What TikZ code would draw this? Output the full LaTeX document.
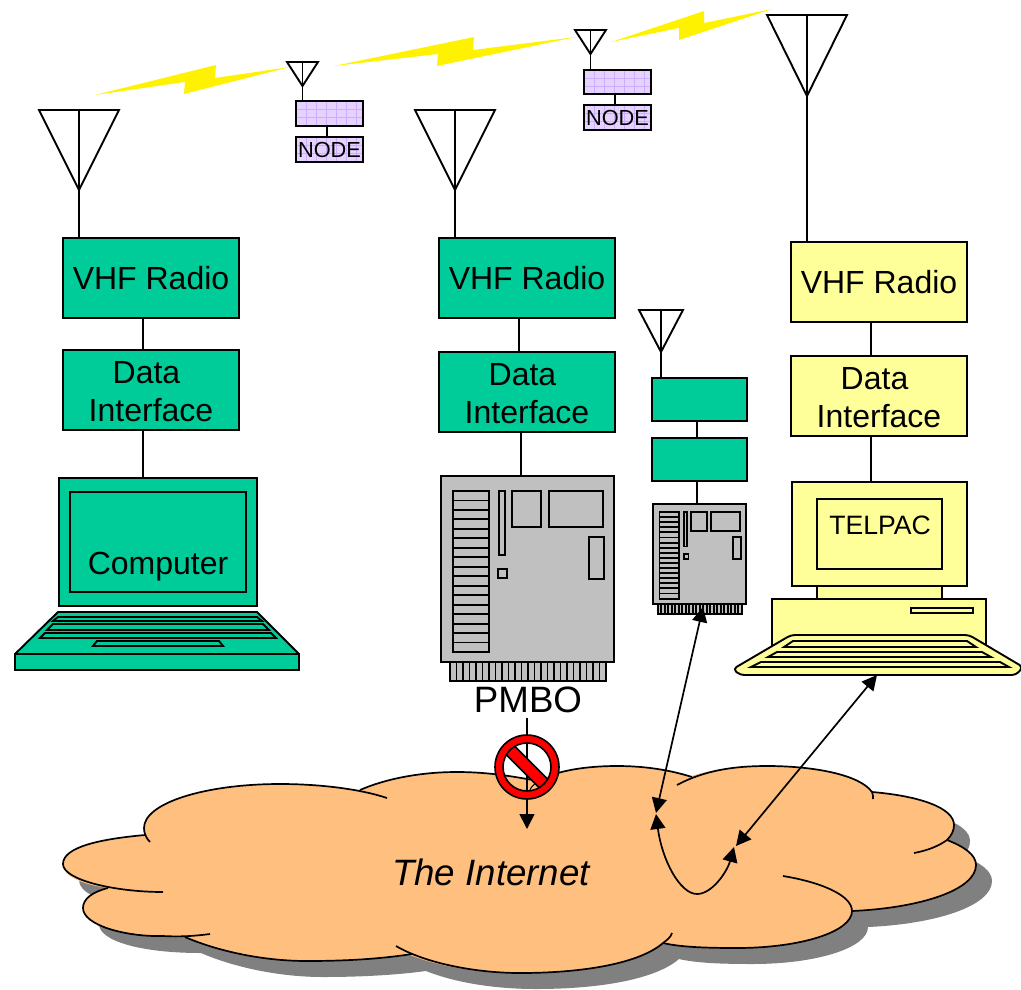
\documentclass[tikz,border=0pt]{standalone}
\usepackage{fontspec}
\setmainfont{Liberation Sans}
\usetikzlibrary{arrows.meta}
\definecolor{grn}{HTML}{00CC99}
\definecolor{ylw}{HTML}{FFFF99}
\definecolor{org}{HTML}{FFBF7F}
\definecolor{shd}{HTML}{808080}
\definecolor{brd}{HTML}{C0C0C0}
\definecolor{pur}{HTML}{E6D2FF}
\definecolor{grd}{HTML}{CDADFF}
\tikzset{
  ln/.style={draw=black,line width=1.9pt,line join=miter},
  box/.style={ln,rectangle,inner sep=0pt,outer sep=0pt,anchor=north west,align=center},
  big/.style={font=\fontsize{32}{38}\selectfont},
  bolt/.style={fill=yellow,draw=none},
  link/.style={draw=black,line width=1.7pt},
  dbl/.style={link,{Triangle[length=15pt,width=15pt]}-{Triangle[length=15pt,width=15pt]}},
}
\newcommand\antenna[5]{% left x, top y, half width, height, stem end y
  \draw[ln] (#1,#2) -- ++(2*#3,0) -- ++(-#3,#4) -- cycle;
  \draw[ln] (#1+#3,#2) -- (#1+#3,#5);
}
\newcommand\boardart[3]{%
  \begin{scope}[shift={(#1,#2)},scale=#3]
    \draw[ln,fill=brd] (9,186) rectangle (165,205);
    \foreach \i in {1,...,23} \draw[ln] (9+6.5*\i,186) -- (9+6.5*\i,205);
    \draw[ln,fill=brd] (0,0) rectangle (173,186);
    \draw[ln,fill=brd] (12,15) rectangle (48,176);
    \foreach \i in {1,...,16} \draw[ln] (12,15+9.47*\i) -- (48,15+9.47*\i);
    \draw[ln,fill=brd] (58,15) rectangle (64,79);
    \draw[ln,fill=brd] (71,15) rectangle (100,51);
    \draw[ln,fill=brd] (108,15) rectangle (162,51);
    \draw[ln,fill=brd] (148,61) rectangle (163,103);
    \draw[ln,fill=brd] (57,93) rectangle (66,102);
  \end{scope}
}
\newcommand\gridlines[4]{% x1 y1 x2 y2
  \begin{scope}
    \clip (#1,#2) rectangle (#3,#4);
    \foreach \i in {1,...,6} \draw[grd,line width=.8pt] (#1+10*\i,#2) -- (#1+10*\i,#4);
    \foreach \i in {1,2} \draw[grd,line width=.8pt] (#1,#2+8*\i) -- (#3,#2+8*\i);
  \end{scope}
}
\newcommand\cloudfill{
  (145,835) .. controls (100,839) and (63,847) .. (63,864)
  .. controls (63,877) and (85,885) .. (108,888)
  .. controls (92,892) and (83,899) .. (83,908)
  .. controls (83,925) and (125,937) .. (185,937)
  .. controls (215,950) and (260,961) .. (307,961)
  .. controls (345,961) and (380,959) .. (410,955)
  .. controls (440,967) and (480,973) .. (520,973)
  .. controls (585,973) and (640,963) .. (663,943)
  .. controls (680,947) and (705,948) .. (737,948)
  .. controls (800,948) and (852,932) .. (852,911)
  .. controls (920,908) and (976,890) .. (976,865)
  .. controls (976,855) and (965,847) .. (947,840)
  .. controls (952,835) and (954,830) .. (954,825)
  .. controls (954,808) and (920,796) .. (872,792)
  .. controls (860,775) and (815,766) .. (767,766)
  .. controls (735,766) and (710,770) .. (691,776)
  .. controls (670,770) and (645,766) .. (617,766)
  .. controls (597,766) and (575,768) .. (558,773)
  .. controls (550,776) and (540,779) .. (532,780)
  .. controls (515,777) and (490,772) .. (457,772)
  .. controls (420,772) and (385,779) .. (360,790)
  .. controls (335,787) and (308,784) .. (280,784)
  .. controls (205,784) and (144,803) .. (144,828)
  -- cycle
}
\begin{document}
\begin{tikzpicture}[x=1pt,y=-1pt]
\useasboundingbox (0,0) rectangle (1021,989);
% lightning
\fill[bolt] (95,95) -- (216,65) -- (215,78) -- (290,67) -- (184,94) -- (185,82) -- cycle;
\fill[bolt] (334,66) -- (474,37) -- (473,50) -- (576,37) -- (437,66) -- (438,54) -- cycle;
\fill[bolt] (611,42) -- (704,11) -- (704,23) -- (772,9) -- (679,40) -- (679,28) -- cycle;
% antennas
\antenna{39}{110}{40}{80}{238}
\antenna{415}{110}{40}{80}{238}
\antenna{767}{15}{40}{81}{242}
\antenna{639}{310}{22}{42}{378}
\antenna{287}{62}{15.5}{24}{101}
\antenna{575}{30}{15.5}{24}{70}
% nodes of the network
\node[box,fill=pur,minimum width=67pt,minimum height=25pt] (n1a) at (296,101) {};
\gridlines{296}{101}{363}{126}
\draw[ln] (n1a.north west) rectangle (n1a.south east);
\node[box,fill=pur,minimum width=67pt,minimum height=25pt] (n1b) at (296,137) {};
\gridlines{296}{137}{363}{162}
\node[box,minimum width=67pt,minimum height=25pt,font=\fontsize{21.8}{24}\selectfont] (n1bt) at (296,137) {NODE};
\draw[ln] ([xshift=31pt]n1a.south west) -- ([xshift=31pt]n1b.north west);
\node[box,fill=pur,minimum width=67pt,minimum height=24pt] (n2a) at (584,70) {};
\gridlines{584}{70}{651}{94}
\draw[ln] (n2a.north west) rectangle (n2a.south east);
\node[box,fill=pur,minimum width=67pt,minimum height=25pt] (n2b) at (584,105) {};
\gridlines{584}{105}{651}{130}
\node[box,minimum width=67pt,minimum height=25pt,font=\fontsize{21.8}{24}\selectfont] (n2bt) at (584,105) {NODE};
\draw[ln] ([xshift=31pt]n2a.south west) -- ([xshift=31pt]n2b.north west);
% left column
\node[box,big,fill=grn,minimum width=176pt,minimum height=80pt] (v1) at (63,238) {\raisebox{-1pt}{VHF Radio}};
\node[box,big,fill=grn,minimum width=176pt,minimum height=80pt] (d1) at (63,350) {\rule{0pt}{26pt}Data\hspace*{9pt}\\Interface};
\node[box,fill=grn,minimum width=198pt,minimum height=128pt] (lid) at (59,478) {};
\node[box,fill=grn,minimum width=176pt,minimum height=100pt] (scr) at (70,492) {};
\node[big,anchor=base] (comp) at (158,574) {Computer};
\draw[ln] ([xshift=80pt]v1.south west) -- ([xshift=80pt]d1.north west);
\draw[ln] ([xshift=80pt]d1.south west) -- ([xshift=84pt]lid.north west);
\draw[ln,fill=grn] (15,654) rectangle (299,670);
\draw[ln,fill=grn,line join=round] (58,612) -- (257,612) -- (299,654) -- (15,654) -- cycle;
\draw[ln,fill=grn] (53,621) -- (58,617) -- (257,617) -- (262,621) -- cycle;
\draw[ln,fill=grn] (47,630) -- (53,624) -- (263,624) -- (269,630) -- cycle;
\draw[ln,fill=grn] (40,638) -- (45,633) -- (271,633) -- (276,638) -- cycle;
\draw[ln,fill=grn] (93,646) -- (97,641) -- (219,641) -- (223,646) -- cycle;
% middle column
\node[box,big,fill=grn,minimum width=176pt,minimum height=80pt] (v2) at (439,238) {\raisebox{-1pt}{VHF Radio}};
\node[box,big,fill=grn,minimum width=176pt,minimum height=80pt] (d2) at (439,352) {\rule{0pt}{26pt}Data\hspace*{9pt}\\Interface};
\draw[ln] ([xshift=80pt]v2.south west) -- ([xshift=80pt]d2.north west);
\boardart{441}{476}{1}
\node[rectangle,inner sep=0pt,outer sep=0pt,anchor=north west,minimum width=173pt,minimum height=186pt] (b1) at (441,476) {};
\draw[ln] ([xshift=82pt]d2.south west) -- ([xshift=80pt]b1.north west);
\node[font=\fontsize{36.7}{40}\selectfont,anchor=base] (pmbo) at (528,712) {PMBO};
% small board column
\node[box,fill=grn,minimum width=95pt,minimum height=43pt] (v3) at (652,378) {};
\node[box,fill=grn,minimum width=95pt,minimum height=43pt] (d3) at (652,438) {};
\draw[ln] ([xshift=45pt]v3.south west) -- ([xshift=45pt]d3.north west);
\boardart{653}{504}{0.5376}
\node[rectangle,inner sep=0pt,outer sep=0pt,anchor=north west,minimum width=93pt,minimum height=100pt] (b2) at (653,504) {};
\draw[ln] ([xshift=45pt]d3.south west) -- ([xshift=44pt]b2.north west);
% right column
\node[box,big,fill=ylw,minimum width=176pt,minimum height=80pt] (v4) at (791,242) {\raisebox{-1pt}{VHF Radio}};
\node[box,big,fill=ylw,minimum width=176pt,minimum height=80pt] (d4) at (791,356) {\rule{0pt}{26pt}Data\hspace*{9pt}\\Interface};
\draw[ln] ([xshift=80pt]v4.south west) -- ([xshift=80pt]d4.north west);
\node[box,fill=ylw,minimum width=175pt,minimum height=104pt] (mon) at (792,482) {};
\draw[ln] ([xshift=80pt]d4.south west) -- ([xshift=79pt]mon.north west);
\node[box,fill=ylw,minimum width=125pt,minimum height=70pt] (mscr) at (817,499) {};
\node[font=\fontsize{26.6}{30}\selectfont,anchor=base] (telpac) at (880,534) {TELPAC};
\draw[ln,fill=ylw] (817,586) rectangle (942,599);
\draw[ln,fill=ylw] (772,599) rectangle (986,650);
\draw[ln,fill=ylw] (911,608) rectangle (973,613);
\draw[ln,fill=ylw,rounded corners=4pt] (791,635) -- (969,635) -- (1023,667) -- (1016,675) -- (740,675) -- (733,669) -- cycle;
\draw[ln,fill=ylw] (784,647) -- (793,641) -- (967,641) -- (976,647) -- cycle;
\draw[ln,fill=ylw] (768,657) -- (777,652) -- (982,652) -- (991,657) -- cycle;
\draw[ln,fill=ylw] (751,667) -- (761,662) -- (1000,662) -- (1009,667) -- cycle;
% cloud
\fill[shd,shift={(16,16)}] \cloudfill;
\fill[org] \cloudfill;
\draw[link] (150,842) .. controls (146,838) and (144,833) .. (144,828)
  .. controls (144,803) and (205,784) .. (280,784)
  .. controls (320,784) and (360,789) .. (387,798);
\draw[link] (360,790) .. controls (385,779) and (420,772) .. (457,772)
  .. controls (490,772) and (515,777) .. (533,780);
\draw[link] (145,835) .. controls (100,839) and (63,847) .. (63,864)
  .. controls (63,880) and (115,892) .. (163,892);
\draw[link] (108,888) .. controls (92,892) and (83,899) .. (83,908)
  .. controls (83,925) and (125,937) .. (163,936)
  .. controls (180,937) and (195,936) .. (210,934);
\draw[link] (185,937) .. controls (215,950) and (260,961) .. (307,961)
  .. controls (345,961) and (380,959) .. (412,954);
\draw[link] (396,946) .. controls (425,963) and (475,973) .. (520,973)
  .. controls (585,973) and (640,963) .. (663,943)
  .. controls (667,940) and (671,937) .. (672,933);
\draw[link] (663,943) .. controls (680,947) and (705,948) .. (737,948)
  .. controls (800,948) and (852,932) .. (852,911)
  .. controls (852,895) and (820,882) .. (783,876);
\draw[link] (852,911) .. controls (920,908) and (976,890) .. (976,865)
  .. controls (976,855) and (965,847) .. (947,840);
\draw[link] (914,853) .. controls (930,850) and (940,845) .. (947,840)
  .. controls (952,835) and (954,830) .. (954,825)
  .. controls (954,808) and (920,796) .. (872,792);
\draw[link] (873,799) .. controls (873,796) and (873,794) .. (872,792)
  .. controls (860,775) and (815,766) .. (767,766)
  .. controls (735,766) and (705,770) .. (677,785);
\draw[link] (692,777) .. controls (670,770) and (645,766) .. (617,766)
  .. controls (597,766) and (575,768) .. (558,773);
\node[font=\itshape\fontsize{36.7}{40}\selectfont,anchor=base] (inet) at (491,885) {The Internet};
% connectors
\coordinate (blockin) at (527,829);
\coordinate (hub1) at (656,813);
\coordinate (hub2) at (656,814);
\coordinate (hub3) at (734,847);
\coordinate (hub4) at (736,846);
\coordinate (b2port) at (703,607);
\coordinate (kbd) at (877,675);
\draw[link,-{Triangle[length=15pt,width=15pt]}] (527,718) -- (blockin);
\draw[dbl] (b2port) -- (hub1);
\draw[dbl] (kbd) -- (hub4);
\draw[dbl] (hub2) .. controls (662,860) and (680,894) .. (697,894) .. controls (712,894) and (727,872) .. (hub3);
% prohibition sign
\fill[white] (536,789) .. controls (538,786) and (540,785) .. (541,784) -- (544,786) -- (537,790) -- cycle;
\draw[black,line width=1pt] (538,782) .. controls (534,784) and (531,787) .. (530,790);
\filldraw[fill=red,draw=black,line width=1.6pt,rotate around={-45:(527,767)}] (503,761) rectangle (551,773);
\path[fill=red,draw=black,line width=1.6pt,even odd rule] (527,767) circle [radius=32] (527,767) circle [radius=24];
\end{tikzpicture}
\end{document}
